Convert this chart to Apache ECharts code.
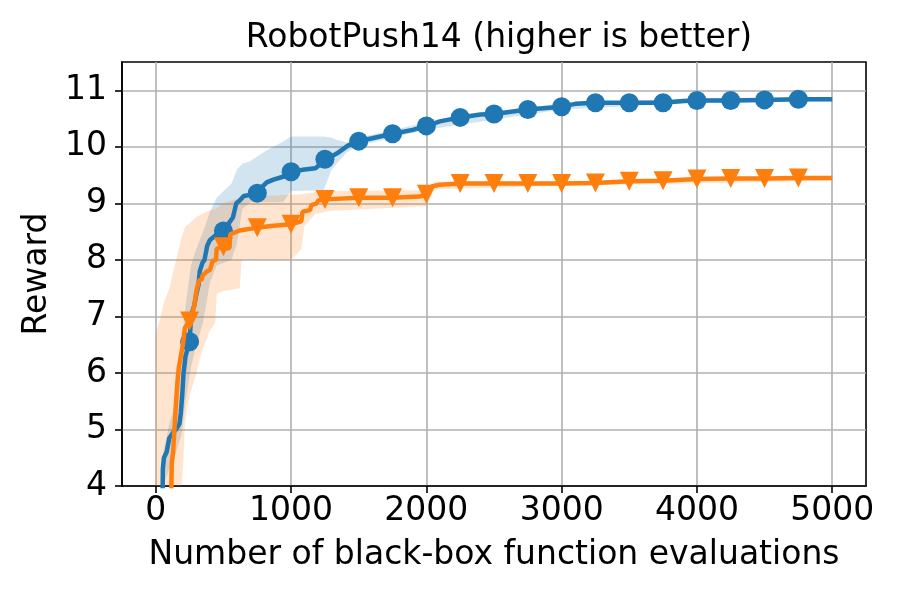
<!DOCTYPE html>
<html><head><meta charset="utf-8">
<script src="https://cdn.jsdelivr.net/npm/echarts@6/dist/echarts.min.js"></script>
<style>html,body{margin:0;padding:0;background:#fff}#c{width:900px;height:600px}</style>
</head><body><div id="c"></div>
<script>
// ---- data ----
const blueX = [49,52,60,80,100,130,150,175,185,195,205,220,250,258,265,285,300,315,325,345,360,380,400,450,500,540,570,595,620,650,700,750,790,820,870,940,1000,1100,1180,1220,1250,1300,1350,1420,1500,1600,1750,1900,2000,2100,2250,2400,2500,2750,3000,3100,3250,3500,3750,3900,4000,4250,4500,4750,5000];
const blueY = [3.6,4.3,4.5,4.6,4.85,4.95,5.0,5.1,5.3,5.6,6.0,6.3,6.55,6.9,7.05,7.2,7.4,7.55,7.8,7.95,8.0,8.25,8.35,8.45,8.51,8.65,8.75,9.0,9.05,9.13,9.15,9.18,9.3,9.37,9.42,9.47,9.56,9.6,9.62,9.7,9.78,9.83,9.9,10.02,10.1,10.15,10.23,10.3,10.37,10.45,10.52,10.57,10.58,10.66,10.71,10.76,10.78,10.78,10.78,10.81,10.82,10.82,10.83,10.84,10.84];
const orangeX = [112,118,128,140,150,160,170,185,200,215,250,265,285,300,315,325,340,345,380,400,420,445,450,500,530,545,550,620,750,850,1000,1075,1085,1140,1150,1190,1200,1250,1500,1750,1950,2000,2020,2040,2100,2250,2500,2750,3000,3250,3500,3750,4000,4250,4500,4750,5000];
const orangeY = [3.6,4.4,4.6,5.1,5.5,5.85,6.1,6.3,6.5,6.8,6.92,7.0,7.2,7.45,7.6,7.65,7.65,7.72,7.8,7.82,7.98,8.0,8.2,8.23,8.2,8.22,8.45,8.52,8.57,8.6,8.63,8.68,8.85,8.88,8.97,9.0,9.05,9.07,9.1,9.1,9.12,9.16,9.2,9.3,9.33,9.35,9.35,9.35,9.35,9.36,9.39,9.4,9.43,9.44,9.44,9.45,9.45];
const blueBandX  = [45,55,100,150,190,220,260,300,350,400,450,560,600,640,700,820,940,1000,1240,1300,1340,1410,1500,2000,3000,4000,5000];
const blueBandLo = [3.5,3.8,4.3,4.6,4.9,5.5,6.1,6.5,6.9,7.6,7.9,8.0,8.3,8.9,9.02,9.02,9.02,9.22,9.23,9.6,9.71,9.9,10.02,10.3,10.66,10.78,10.8];
const blueBandHi = [3.9,4.6,5.1,5.5,6.3,7.2,7.9,8.2,8.5,8.85,9.1,9.35,9.6,9.7,9.75,9.94,10.09,10.18,10.18,10.16,10.12,10.08,10.16,10.43,10.77,10.86,10.88];
const orangeBandX  = [0,30,60,100,130,165,190,205,215,250,300,330,390,440,450,500,620,635,1000,1075,1100,1180,1300,2000,2060,3000,5000];
const orangeBandLo = [3.5,3.5,3.5,3.6,3.7,3.8,4.0,4.5,5.1,5.6,6.0,6.3,6.7,6.9,7.4,7.45,7.5,8.0,8.0,8.19,8.6,8.81,8.87,8.95,9.25,9.31,9.4];
const orangeBandHi = [6.7,6.95,7.25,7.5,7.8,8.15,8.4,8.5,8.58,8.65,8.76,8.8,8.87,8.9,8.92,9.0,9.1,9.12,9.15,9.16,9.17,9.2,9.22,9.23,9.38,9.39,9.48];
const xTicks = [0,1000,2000,3000,4000,5000];
const yTicks = [4,5,6,7,8,9,10,11];
const titleText = 'RobotPush14 (higher is better)';
const xName = 'Number of black-box function evaluations';
const yName = 'Reward';

const BLUE = '#1f77b4', ORANGE = '#ff7f0e';
const FONT = 'DejaVu Sans';
const FS = 33;
const chart = echarts.init(document.getElementById('c'), null, {renderer: 'canvas'});

function lineData(xs, ys, sym) {
  return xs.map((x, i) => ({value: [x, ys[i]], symbol: (x % 250 === 0 && x > 0 && x < 5000) ? sym : 'none'}));
}
function bandSeries(xs, lo, hi, color) {
  return {
    type: 'custom', clip: true, silent: true, z: 1,
    data: xs.map((x, i) => [x, lo[i], hi[i]]),
    encode: {x: 0, y: [1, 2]},
    renderItem: function (params, api) {
      if (params.dataIndex !== 0) return null;
      const cs = params.coordSys;
      const yBot = cs.y + cs.height, yTop = cs.y;
      const n = xs.length;
      const pt = (x, y) => { const p = api.coord([x, y]); p[1] = Math.min(yBot, Math.max(yTop, p[1])); return p; };
      const pts = [];
      for (let i = 0; i < n; i++) pts.push(pt(api.value(0, i), api.value(2, i)));
      for (let i = n - 1; i >= 0; i--) pts.push(pt(api.value(0, i), api.value(1, i)));
      return {type: 'polygon', shape: {points: pts}, style: {fill: color}};
    }
  };
}

const option = {
  animation: false,
  backgroundColor: '#fff',
  title: {text: titleText, left: 494, top: 17, textAlign: 'center',
          textStyle: {fontFamily: FONT, fontSize: FS, fontWeight: 'normal', color: '#000'}},
  grid: {left: 122, right: 34, top: 62, bottom: 114, show: true, borderColor: '#000', borderWidth: 1.6, containLabel: false},
  xAxis: {type: 'value', min: -250, max: 5250,
    name: xName, nameLocation: 'middle', nameGap: 53,
    nameTextStyle: {fontFamily: FONT, fontSize: FS, color: '#000', verticalAlign: 'top'},
    axisLine: {show: true, onZero: false, lineStyle: {color: '#000', width: 1.6}},
    axisTick: {show: true, length: 7, customValues: xTicks, lineStyle: {color: '#000', width: 1.6}},
    axisLabel: {fontFamily: FONT, fontSize: FS, color: '#000', margin: 9, customValues: xTicks,
      formatter: v => (xTicks.indexOf(v) >= 0 ? String(v) : '')},
    splitLine: {show: true, lineStyle: {color: '#b0b0b0', width: 1.6}}},
  yAxis: {type: 'value', min: 4, max: 11.5, interval: 1,
    name: yName, nameLocation: 'middle', nameGap: 68, nameRotate: 90,
    nameTextStyle: {fontFamily: FONT, fontSize: FS, color: '#000'},
    axisLine: {show: true, onZero: false, lineStyle: {color: '#000', width: 1.6}},
    axisTick: {show: true, length: 7, customValues: yTicks, lineStyle: {color: '#000', width: 1.6}},
    axisLabel: {fontFamily: FONT, fontSize: FS, color: '#000', margin: 15, customValues: yTicks,
      formatter: v => (yTicks.indexOf(v) >= 0 ? String(v) : '')},
    splitLine: {show: true, lineStyle: {color: '#b0b0b0', width: 1.6}}},
  series: [
    bandSeries(blueBandX, blueBandLo, blueBandHi, 'rgba(31,119,180,0.2)'),
    bandSeries(orangeBandX, orangeBandLo, orangeBandHi, 'rgba(255,127,14,0.2)'),
    {type: 'line', data: lineData(blueX, blueY, 'circle'), showSymbol: true, showAllSymbol: true,
     symbolSize: 19, itemStyle: {color: BLUE}, lineStyle: {color: BLUE, width: 4.5}, z: 3},
    {type: 'line', data: lineData(orangeX, orangeY, 'triangle'), showSymbol: true, showAllSymbol: true,
     symbolSize: 19, symbolRotate: 180, itemStyle: {color: ORANGE}, lineStyle: {color: ORANGE, width: 4.5}, z: 4}
  ]
};
chart.setOption(option);
</script>
</body></html>
